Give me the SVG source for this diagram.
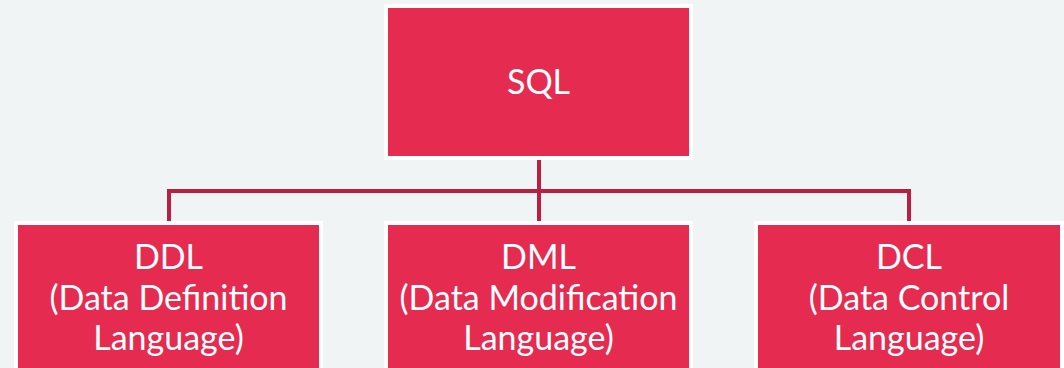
<svg xmlns="http://www.w3.org/2000/svg" width="1064" height="368" viewBox="0 0 1064 368">
  <style>
    .box { fill: #e62b50; stroke: #ffffff; stroke-width: 4; }
    .label { fill: #ffffff; font-family: Lato, "Open Sans", "Liberation Sans", sans-serif; font-size: 34px; text-anchor: middle; }
    .link { fill: none; stroke: #b81f40; stroke-width: 4; }
  </style>
  <rect width="1064" height="368" fill="#f0f4f5"/>

  <!-- tree connectors -->
  <g id="connectors">
    <path class="link" d="M539 160 V221"/>
    <path class="link" d="M169 221 V191 H909 V221"/>
  </g>

  <g id="node-sql">
    <rect class="box" x="386" y="6" width="305" height="152"/>
    <text class="label" x="538.5" y="94">SQL</text>
  </g>

  <g id="node-ddl">
    <rect class="box" x="16" y="223" width="305" height="160"/>
    <text class="label" x="168.5" y="269">DDL</text>
    <text class="label" x="168.5" y="310">(Data Definition</text>
    <text class="label" x="168.5" y="350">Language)</text>
  </g>

  <g id="node-dml">
    <rect class="box" x="386" y="223" width="305" height="160"/>
    <text class="label" x="538.5" y="269">DML</text>
    <text class="label" x="538.5" y="310">(Data Modification</text>
    <text class="label" x="538.5" y="350">Language)</text>
  </g>

  <g id="node-dcl">
    <rect class="box" x="756" y="223" width="306" height="160"/>
    <text class="label" x="909" y="269">DCL</text>
    <text class="label" x="909" y="310">(Data Control</text>
    <text class="label" x="909" y="350">Language)</text>
  </g>
</svg>
